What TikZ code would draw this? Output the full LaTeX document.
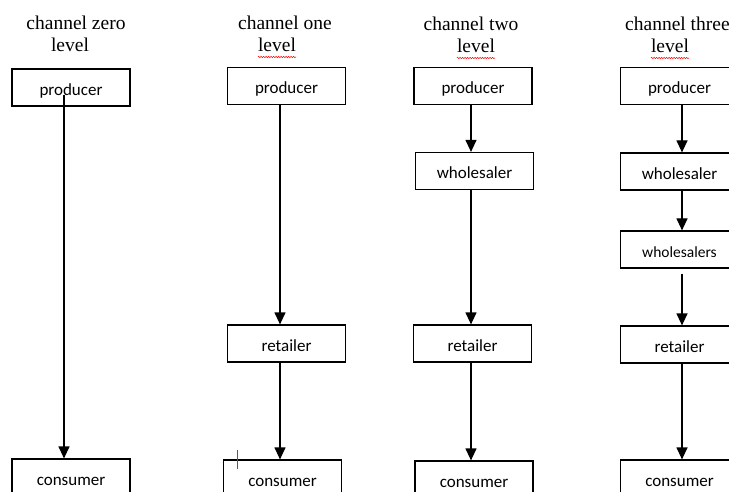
\documentclass[tikz,border=0pt]{standalone}
\usepackage{fontspec}
\setmainfont{Liberation Serif}
\newfontfamily\boxfont{Carlito}
\usetikzlibrary{arrows.meta,positioning,calc,decorations.pathmorphing}

\begin{document}
\begin{tikzpicture}[x=1pt, y=-1pt,
  box/.style={draw, line width=1.2pt, minimum width=118pt, minimum height=37pt, inner sep=0pt, text height=17.5pt, text depth=1.5pt, font=\boxfont\fontsize{17}{19}\selectfont},
  head/.style={anchor=base, inner sep=0pt, font=\fontsize{19.5}{23}\selectfont},
  arr/.style={-{Triangle[length=12pt,width=11pt]}, line width=1.2pt},
  spell/.style={red, line width=0.5pt, decorate, decoration={snake, amplitude=0.7pt, segment length=2.5pt}}
]
\useasboundingbox (0,0) rectangle (729,492);
\clip (0,0) rectangle (729,492);

% headers
\node[head] (h0) at (76,30) {channel zero};
\node[head] (l0) at (70,52) {level};
\node[head] (h1) at (285,30) {channel one};
\node[head] (l1) at (277,52) {level};
\node[head] (h2) at (471,31) {channel two};
\node[head] (l2) at (476,53) {level};
\node[head, anchor=base west] (h3) at (625,31) {channel three};
\node[head] (l3) at (670,53) {level};
\draw[spell] ($(l1.base west)+(0,5)$) -- ($(l1.base east)+(0,5)$);
\draw[spell] ($(l2.base west)+(0,5)$) -- ($(l2.base east)+(0,5)$);
\draw[spell] ($(l3.base west)+(0,5)$) -- ($(l3.base east)+(0,5)$);

% channel zero
\node[box] (p0) at (71,87.5) {producer};
\node[box] (c0) at (71,477.5) {consumer};

% channel one
\node[box] (p1) at (286.5,86) {producer};
\node[box] (r1) at (286.5,343.5) {retailer};
\node[box] (c1) at (282.5,478.5) {consumer};

% channel two
\node[box] (p2) at (473,86) {producer};
\node[box] (w2) at (474.5,171) {wholesaler};
\node[box] (r2) at (472.5,343.5) {retailer};
\node[box] (c2) at (474,479.5) {consumer};

% channel three
\node[box] (p3) at (679.5,86) {producer};
\node[box] (w3) at (679.5,171.5) {wholesaler};
\node[box, font=\boxfont\fontsize{15.5}{17}\selectfont] (ws3) at (679.5,249.5) {wholesalers};
\node[box] (r3) at (679.5,344.5) {retailer};
\node[box] (c3) at (679.5,478.5) {consumer};

% arrow columns
\coordinate (a0) at (64,0);
\coordinate (a1) at (280,0);
\coordinate (a2) at (471,0);
\coordinate (a3) at (682,0);

\draw[arr] ($(p0.center -| a0)+(0,8)$) -- (c0.north -| a0);
\draw[arr] (p1.south -| a1) -- (r1.north -| a1);
\draw[arr] (r1.south -| a1) -- (c1.north -| a1);
\draw[arr] (p2.south -| a2) -- (w2.north -| a2);
\draw[arr] (w2.south -| a2) -- (r2.north -| a2);
\draw[arr] (r2.south -| a2) -- (c2.north -| a2);
\draw[arr] (p3.south -| a3) -- (w3.north -| a3);
\draw[arr] (w3.south -| a3) -- (ws3.north -| a3);
\draw[arr, shorten <=5pt] (ws3.south -| a3) -- (r3.north -| a3);
\draw[arr] (r3.south -| a3) -- (c3.north -| a3);

% text cursor
\draw[line width=0.6pt, gray!70!black] (237,450) -- (237,469);
\end{tikzpicture}
\end{document}
